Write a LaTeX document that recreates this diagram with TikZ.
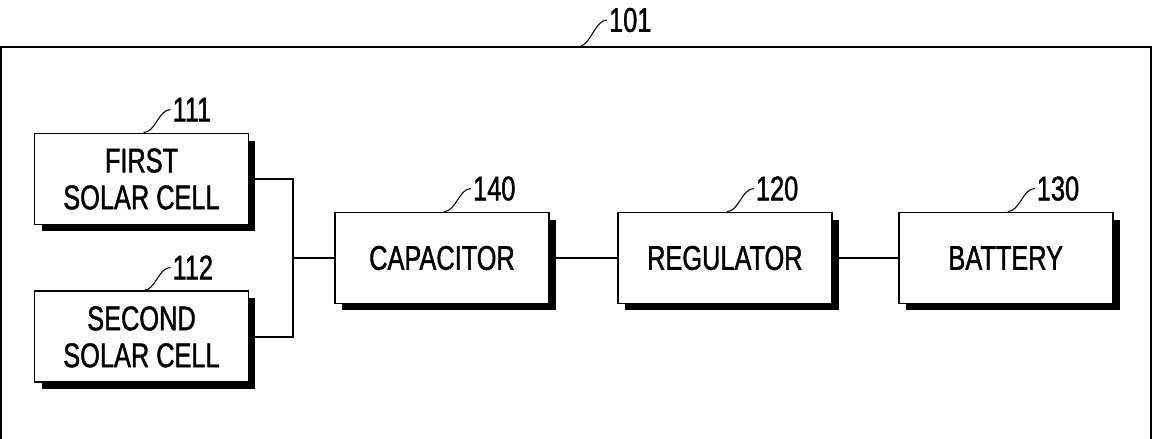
\documentclass[tikz,border=0pt]{standalone}
\usepackage{fontspec}
\setmainfont{Liberation Sans}[FakeStretch=0.74, FakeBold=1.2]
\usetikzlibrary{positioning, calc, shadows}

\begin{document}
\begin{tikzpicture}[x=0.02cm, y=-0.02cm,
    font=\fontsize{19.5pt}{21pt}\selectfont,
    blk/.style={draw, line width=1.1pt, fill=white, align=center,
      minimum width=4.28cm, minimum height=1.82cm, inner sep=2pt,
      drop shadow={shadow xshift=0.14cm, shadow yshift=-0.14cm, fill=black, opacity=1}},
    wire/.style={line width=0.8pt},
    lead/.style={line width=0.6pt},
    num/.style={inner sep=1pt, anchor=west}]
  \useasboundingbox (0,0) rectangle (1154,439);
  % outer frame (open at the bottom)
  \draw[line width=1.1pt] (1,439) |- (1151,47) -- (1151,439);
  \coordinate (ftop) at (578,47);
  \node[num] (n101) at (607,20) {101};
  \draw[lead] (ftop) .. controls +(12,0) and +(-12,0) .. (n101.west);

  % blocks
  \node[blk] (s1) at (141.5,179) {FIRST\\SOLAR CELL};
  \node[blk, below=1.3cm of s1] (s2) {SECOND\\SOLAR CELL};
  \node[blk] (cap) at (442,258) {CAPACITOR};
  \node[blk, right=1.34cm of cap] (reg) {REGULATOR};
  \node[blk, right=1.3cm of reg] (bat) {BATTERY};

  % reference numerals
  \foreach \b/\n in {s1/111, s2/112, cap/140, reg/120, bat/130} {
    \node[num] (n\n) at ($(\b.north)+(29,-23)$) {\n};
    \draw[lead] ($(\b.north)+(2,0)$) .. controls +(12,0) and +(-12,0) .. (n\n.west);
  }

  % wiring
  \coordinate (jn) at (293,258);
  \draw[wire] (s1.east) -| (jn) |- (s2.east);
  \draw[wire] (jn) -- (cap.west);
  \draw[wire] (cap.east) -- (reg.west);
  \draw[wire] (reg.east) -- (bat.west);
\end{tikzpicture}
\end{document}
